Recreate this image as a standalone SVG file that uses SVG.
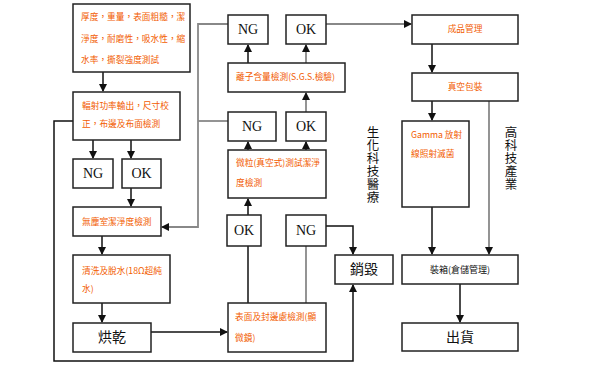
<svg xmlns="http://www.w3.org/2000/svg" width="600" height="376" viewBox="0 0 600 376">
<style>
.box{fill:#fff;stroke:#222;stroke-width:1.5}
.t{font-family:"Noto Sans CJK TC","Liberation Sans",sans-serif;font-size:8.7px;fill:#f25c00}
.b{font-family:"Noto Sans CJK TC","Liberation Sans",sans-serif;font-size:14px;fill:#111}
.s{font-family:"Noto Sans CJK TC","Liberation Sans",sans-serif;font-size:9px;fill:#111}
.e{font-family:"Liberation Serif","Noto Sans CJK TC",serif;font-size:14px;fill:#111}
.v{font-family:"Noto Sans CJK TC",sans-serif;font-size:12.5px;fill:#111;writing-mode:vertical-rl;letter-spacing:0.5px}
.c{fill:none;stroke:#111;stroke-width:1.5}
.g{fill:none;stroke:#888;stroke-width:1.8}
</style>
<defs>
<marker id="a" markerWidth="8" markerHeight="8" refX="7" refY="4" orient="auto" markerUnits="userSpaceOnUse">
<path d="M0,0 L8,4 L0,8 Z" fill="#111"/>
</marker>
</defs>
<g id="connectors">
<path class="c" d="M103,72 V91" marker-end="url(#a)"/>
<path class="c" d="M93,140 V158" marker-end="url(#a)"/>
<path class="c" d="M131,140 V158" marker-end="url(#a)"/>
<path class="c" d="M131,188 V206" marker-end="url(#a)"/>
<path class="c" d="M102,236 V254" marker-end="url(#a)"/>
<path class="c" d="M102,303 V322" marker-end="url(#a)"/>
<path class="c" d="M151,332 H227" marker-end="url(#a)"/>
<path class="c" stroke-width="2" d="M73,121 H54 V361 H353 V285" marker-end="url(#a)"/>
<path class="c" stroke-width="2" d="M248,303 V216" marker-end="url(#a)"/>
<path class="g" d="M306,303 V216" marker-end="url(#a)"/>
<path class="c" d="M326,226 H353 V254" marker-end="url(#a)"/>
<path class="c" stroke-width="2" d="M248,215 V199" marker-end="url(#a)"/>
<path class="c" stroke-width="2" d="M248,150 V142" marker-end="url(#a)"/>
<path class="c" stroke-width="2" d="M306,150 V142" marker-end="url(#a)"/>
<path class="g" d="M306,112 V93" marker-end="url(#a)"/>
<path class="c" stroke-width="2" d="M248,63 V45" marker-end="url(#a)"/>
<path class="g" d="M306,63 V45" marker-end="url(#a)"/>
<path class="g" d="M228,24 H198 V227 H162" marker-end="url(#a)"/>
<path class="g" d="M228,121 H198"/>
<path class="g" d="M326,24 H411" marker-end="url(#a)"/>
<path class="c" d="M432,44 V72" marker-end="url(#a)"/>
<path class="c" d="M432,101 V120" marker-end="url(#a)"/>
<path class="c" d="M432,207 V254" marker-end="url(#a)"/>
<path class="g" d="M489,101 V254" marker-end="url(#a)"/>
<path class="c" d="M460,284 V322" marker-end="url(#a)"/>
</g>
<g id="n1"><rect class="box" x="73" y="4" width="117" height="68"/>
<text class="t" x="81" y="20">厚度，重量，表面粗糙，潔</text>
<text class="t" x="81" y="42">淨度，耐磨性，吸水性，縮</text>
<text class="t" x="81" y="63">水率，撕裂強度測試</text></g>
<g id="n2"><rect class="box" x="73" y="92" width="107" height="48"/>
<text class="t" x="82" y="109">輻射功率輸出，尺寸校</text>
<text class="t" x="82" y="127">正，布邊及布面檢測</text></g>
<g id="ng1"><rect class="box" x="73" y="159" width="40" height="29"/><text class="e" x="93" y="178" text-anchor="middle">NG</text></g>
<g id="ok1"><rect class="box" x="122" y="159" width="39" height="29"/><text class="e" x="141.5" y="178" text-anchor="middle">OK</text></g>
<g id="n3"><rect class="box" x="73" y="207" width="88" height="29"/>
<text class="t" x="82" y="225">無塵室潔淨度檢測</text></g>
<g id="n4"><rect class="box" x="73" y="255" width="97" height="48"/>
<text class="t" x="82" y="274">清洗及脫水(18Ω超純</text>
<text class="t" x="82" y="292">水)</text></g>
<g id="n5"><rect class="box" x="73" y="323" width="78" height="29"/>
<text class="b" x="112" y="342" text-anchor="middle">烘乾</text></g>
<g id="n6"><rect class="box" x="228" y="303" width="98" height="49"/>
<text class="t" x="235" y="320">表面及封邊處檢測(顯</text>
<text class="t" x="235" y="341">微鏡)</text></g>
<g id="ok2"><rect class="box" x="227" y="215" width="34" height="31"/><text class="e" x="244" y="235" text-anchor="middle">OK</text></g>
<g id="ng2"><rect class="box" x="286" y="215" width="40" height="31"/><text class="e" x="306" y="235" text-anchor="middle">NG</text></g>
<g id="n7"><rect class="box" x="335" y="255" width="58" height="29"/>
<text class="b" x="364" y="274" text-anchor="middle">銷毀</text></g>
<g id="n8"><rect class="box" x="228" y="150" width="98" height="48"/>
<text class="t" x="236" y="166">微粒(真空式)測試潔淨</text>
<text class="t" x="236" y="186">度檢測</text></g>
<g id="ng3"><rect class="box" x="228" y="112" width="48" height="29"/><text class="e" x="252" y="131" text-anchor="middle">NG</text></g>
<g id="ok3"><rect class="box" x="286" y="112" width="40" height="29"/><text class="e" x="306" y="131" text-anchor="middle">OK</text></g>
<g id="n9"><rect class="box" x="228" y="63" width="117" height="29"/>
<text class="t" x="236" y="80">離子含量檢測(S.G.S.檢驗)</text></g>
<g id="ng4"><rect class="box" x="228" y="15" width="40" height="29"/><text class="e" x="248" y="34" text-anchor="middle">NG</text></g>
<g id="ok4"><rect class="box" x="286" y="15" width="40" height="29"/><text class="e" x="306" y="34" text-anchor="middle">OK</text></g>
<g id="n10"><rect class="box" x="412" y="15" width="106" height="29"/>
<text class="t" x="465" y="32" text-anchor="middle">成品管理</text></g>
<g id="n11"><rect class="box" x="412" y="73" width="106" height="28"/>
<text class="t" x="465" y="90" text-anchor="middle">真空包裝</text></g>
<g id="n12"><rect class="box" x="402" y="121" width="67" height="86"/>
<text class="t" x="411" y="138">Gamma 放射</text>
<text class="t" x="411" y="157">線照射滅菌</text></g>
<g id="n13"><rect class="box" x="402" y="255" width="116" height="29"/>
<text class="s" x="460" y="273" text-anchor="middle">裝箱(倉儲管理)</text></g>
<g id="n14"><rect class="box" x="402" y="323" width="116" height="28"/>
<text class="b" x="460" y="342" text-anchor="middle">出貨</text></g>
<g id="labels">
<text class="v" x="373" y="126">生化科技醫療</text>
<text class="v" x="511" y="126">高科技產業</text>
</g>
</svg>
